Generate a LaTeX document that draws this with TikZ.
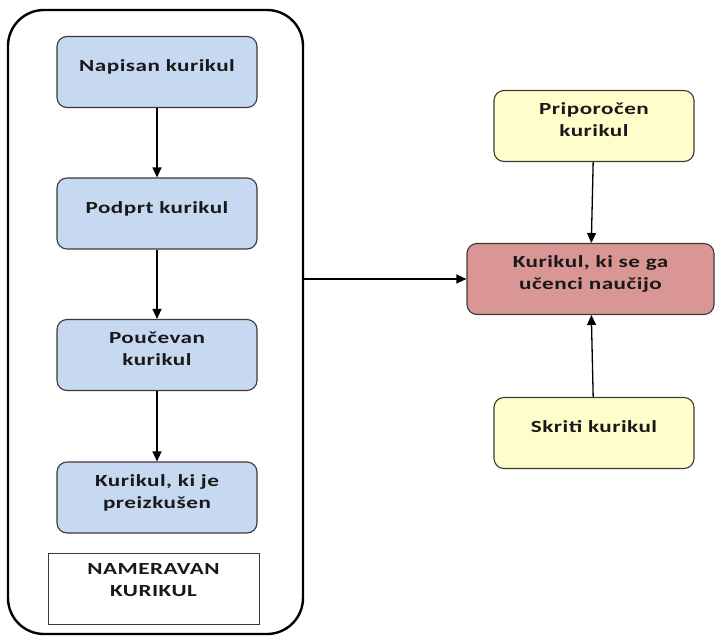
\documentclass[tikz,border=0pt]{standalone}
\usepackage{fontspec}
\setmainfont{Carlito}
\newfontfamily\boxfont[FakeStretch=1.36,LetterSpace=3]{Carlito}
\usetikzlibrary{arrows.meta}
\definecolor{curblue}{HTML}{C6D9F1}
\definecolor{curred}{HTML}{D99694}
\definecolor{curyellow}{HTML}{FFFECB}
\definecolor{curline}{HTML}{3A3A3A}
\begin{document}
\begin{tikzpicture}[x=1pt, y=-1pt,
                    box/.style={draw=curline, line width=1.1pt, rounded corners=10pt,
                                minimum width=200pt, minimum height=71pt, align=center,
                                text depth=12pt, inner sep=2pt, text=black!90,
                                font=\boxfont\bfseries\fontsize{17}{22}\selectfont},
                    arrow/.style={-{Triangle[length=10pt,width=9pt]}, line width=1.3pt, black}]
\useasboundingbox (0,0) rectangle (715,637);
% nameravan kurikul
\node[draw=black, line width=2.4pt, rounded corners=36pt,
      minimum width=295pt, minimum height=624pt] (container) at (155.5,322) {};
\node[box, fill=curblue] (napisan) at (157,72) {Napisan kurikul};
\node[box, fill=curblue] (podprt) at (157,213.5) {Podprt kurikul};
\node[box, fill=curblue] (poucevan) at (157,355) {Poučevan\\kurikul};
\node[box, fill=curblue] (preizkusen) at (157,497.5) {Kurikul, ki je\\preizkušen};
\node[box, rounded corners=0pt, line width=0.8pt, draw=curline, minimum width=211pt,
      text depth=18pt] (nameravan) at (153.5,588.5) {NAMERAVAN\\KURIKUL};
% right side
\node[box, fill=curyellow] (priporocen) at (594,126) {Priporočen\\kurikul};
\node[box, fill=curred, minimum width=247pt] (ucenci) at (590.5,279) {Kurikul, ki se ga\\učenci naučijo};
\node[box, fill=curyellow] (skriti) at (594,433) {Skriti kurikul};
\draw[arrow] (napisan) -- (podprt);
\draw[arrow] (podprt) -- (poucevan);
\draw[arrow] (poucevan) -- (preizkusen);
\draw[arrow] (container.east |- ucenci) -- (ucenci);
\draw[arrow] (priporocen) -- (ucenci);
\draw[arrow] (skriti) -- (ucenci);
\end{tikzpicture}
\end{document}
